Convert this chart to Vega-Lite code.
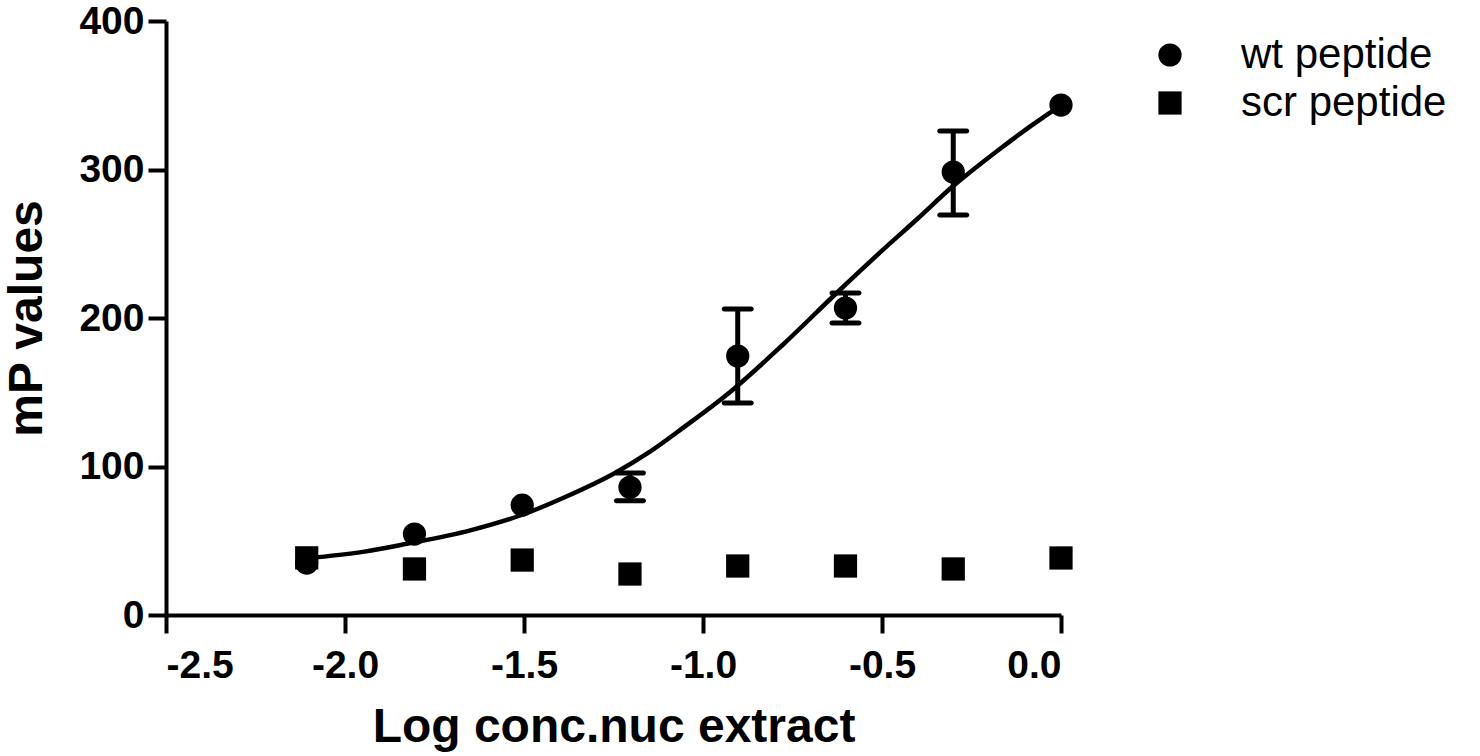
{
  "$schema": "https://vega.github.io/schema/vega-lite/v6.json",
  "autosize": "none",
  "width": 895,
  "height": 594,
  "padding": {"left": 166, "top": 21, "right": 419, "bottom": 141},
  "background": "white",
  "config": {
    "view": {"stroke": null},
    "font": "Liberation Sans",
    "axis": {
      "grid": false,
      "domainColor": "black",
      "domainWidth": 4,
      "tickColor": "black",
      "tickWidth": 4,
      "tickSize": 18,
      "labelColor": "black",
      "labelFont": "Liberation Sans",
      "labelFontSize": 39,
      "labelFontWeight": "bold",
      "titleColor": "black",
      "titleFont": "Liberation Sans",
      "titleFontSize": 48,
      "titleFontWeight": "bold"
    }
  },
  "datasets": {
    "points": [
      {"series": "wt peptide", "x": -2.107, "y": 35},
      {"series": "wt peptide", "x": -1.806, "y": 54.5},
      {"series": "wt peptide", "x": -1.505, "y": 74},
      {"series": "wt peptide", "x": -1.204, "y": 86, "lo": 77, "hi": 95.6},
      {"series": "wt peptide", "x": -0.903, "y": 174.4, "lo": 142.8, "hi": 206},
      {"series": "wt peptide", "x": -0.602, "y": 206.7, "lo": 196.6, "hi": 216.8},
      {"series": "wt peptide", "x": -0.301, "y": 298.3, "lo": 269.4, "hi": 326},
      {"series": "wt peptide", "x": 0, "y": 343.4},
      {"series": "scr peptide", "x": -2.107, "y": 38.5},
      {"series": "scr peptide", "x": -1.806, "y": 31},
      {"series": "scr peptide", "x": -1.505, "y": 37},
      {"series": "scr peptide", "x": -1.204, "y": 27.6},
      {"series": "scr peptide", "x": -0.903, "y": 33},
      {"series": "scr peptide", "x": -0.602, "y": 33},
      {"series": "scr peptide", "x": -0.301, "y": 31},
      {"series": "scr peptide", "x": 0, "y": 38.4}
    ],
    "curve": [
      {"x": -2.107, "y": 38.2},
      {"x": -1.95, "y": 42.5},
      {"x": -1.827, "y": 48},
      {"x": -1.65, "y": 57},
      {"x": -1.511, "y": 67},
      {"x": -1.38, "y": 80},
      {"x": -1.251, "y": 95},
      {"x": -1.148, "y": 110},
      {"x": -1.056, "y": 126},
      {"x": -0.925, "y": 150},
      {"x": -0.777, "y": 182},
      {"x": -0.626, "y": 217},
      {"x": -0.497, "y": 246},
      {"x": -0.40, "y": 267},
      {"x": -0.310, "y": 287},
      {"x": -0.170, "y": 314},
      {"x": -0.080, "y": 330},
      {"x": 0, "y": 343.4}
    ]
  },
  "layer": [
    {
      "data": {"name": "curve"},
      "mark": {"type": "line", "color": "black", "strokeWidth": 4.5, "interpolate": "monotone"},
      "encoding": {
        "x": {
          "field": "x", "type": "quantitative",
          "scale": {"domain": [-2.5, 0], "nice": false, "zero": false},
          "axis": {
            "values": [-2.5, -2, -1.5, -1, -0.5, 0],
            "labelExpr": "replace(format(datum.value, '.1f'), '\u2212', '-')",
            "labelPadding": 13,
            "title": "Log conc.nuc extract",
            "titlePadding": 18
          }
        },
        "y": {
          "field": "y", "type": "quantitative",
          "scale": {"domain": [0, 400], "nice": false},
          "axis": {
            "values": [0, 100, 200, 300, 400],
            "labelPadding": 4,
            "title": "mP values",
            "titlePadding": 27
          }
        }
      }
    },
    {
      "data": {"name": "points"},
      "transform": [{"filter": "isValid(datum.lo)"}],
      "mark": {"type": "rule", "color": "black", "strokeWidth": 5},
      "encoding": {
        "x": {"field": "x", "type": "quantitative"},
        "y": {"field": "lo", "type": "quantitative"},
        "y2": {"field": "hi"}
      }
    },
    {
      "data": {"name": "points"},
      "transform": [{"filter": "isValid(datum.lo)"}],
      "mark": {"type": "tick", "color": "black", "orient": "horizontal", "size": 32, "thickness": 5, "cornerRadius": 2.5, "opacity": 1},
      "encoding": {
        "x": {"field": "x", "type": "quantitative"},
        "y": {"field": "lo", "type": "quantitative"}
      }
    },
    {
      "data": {"name": "points"},
      "transform": [{"filter": "isValid(datum.hi)"}],
      "mark": {"type": "tick", "color": "black", "orient": "horizontal", "size": 32, "thickness": 5, "cornerRadius": 2.5, "opacity": 1},
      "encoding": {
        "x": {"field": "x", "type": "quantitative"},
        "y": {"field": "hi", "type": "quantitative"}
      }
    },
    {
      "data": {"name": "points"},
      "mark": {"type": "point", "filled": true, "color": "black", "opacity": 1, "size": 540},
      "encoding": {
        "x": {"field": "x", "type": "quantitative"},
        "y": {"field": "y", "type": "quantitative"},
        "shape": {
          "field": "series", "type": "nominal",
          "scale": {"domain": ["wt peptide", "scr peptide"], "range": ["circle", "square"]},
          "legend": {
            "title": null,
            "orient": "none",
            "legendX": 983,
            "legendY": 13,
            "symbolSize": 540,
            "symbolFillColor": "black",
            "symbolStrokeColor": "black",
            "symbolStrokeWidth": 0,
            "symbolOpacity": 1,
            "labelFont": "Liberation Sans",
            "labelFontSize": 42,
            "labelColor": "black",
            "labelOffset": 50,
            "rowPadding": 6,
            "labelLimit": 400
          }
        }
      }
    }
  ]
}
